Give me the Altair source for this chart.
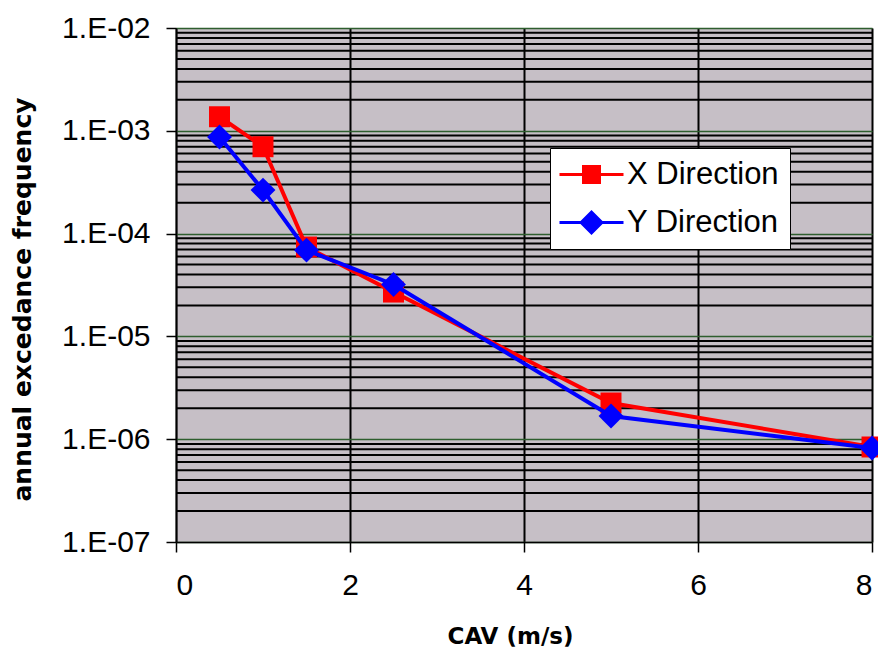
import altair as alt
import pandas as pd

# ---- data ----
cav = [0.5, 1, 1.5, 2.5, 5, 8]
x_direction = [1.37e-3, 7.0e-4, 7.4e-5, 2.7e-5, 2.25e-6, 8.4e-7]
y_direction = [8.7e-4, 2.65e-4, 6.9e-5, 3.2e-5, 1.68e-6, 8.2e-7]
series_names = ["X Direction", "Y Direction"]
x_ticks = [0, 2, 4, 6, 8]
decades = [1e-7, 1e-6, 1e-5, 1e-4, 1e-3, 1e-2]
minor_grid = [m * d for d in decades[:-1] for m in range(2, 10)]

colors = ["#FF0000", "#0000FF"]

df = pd.DataFrame({
    "cav": cav * 2,
    "freq": x_direction + y_direction,
    "series": [series_names[0]] * len(cav) + [series_names[1]] * len(cav),
})
grid_df = pd.DataFrame({"v": minor_grid})

FONT = "Liberation Sans"
TFONT = "DejaVu Sans"

yscale = alt.Scale(type="log", domain=[1e-7, 1e-2], nice=False)
xscale = alt.Scale(domain=[0, 8], nice=False, zero=False)

yaxis = alt.Axis(
    values=decades,
    labelExpr="'1.E-0' + format(-round(log(datum.value)/LN10), 'd')",
    grid=True, gridColor="#2E5E2E", gridWidth=1.5,
    tickColor="black", tickSize=10, tickWidth=1.5,
    domainColor="black", domainWidth=1.5,
    labelFont=FONT, labelFontSize=30, labelColor="black", labelPadding=16,
    titleFont=TFONT, titleFontSize=25, titleFontWeight="bold", titleColor="black",
    titleX=-154, titleY=271, titleAngle=270, titleAlign="center", titleBaseline="middle",
)
xaxis = alt.Axis(
    values=x_ticks, format="d",
    grid=True, gridColor="black", gridWidth=2,
    tickColor="black", tickSize=10, tickWidth=1.5,
    domainColor="black", domainWidth=1.5,
    labelFont=FONT, labelFontSize=30, labelColor="black", labelPadding=18,
    titleFont=TFONT, titleFontSize=23, titleFontWeight="bold", titleColor="black",
    titleX=334, titleY=94, titleAlign="center", titleBaseline="middle",
)

YT = "annual excedance frequency"
XT = "CAV (m/s)"
X = alt.X("cav:Q", scale=xscale, axis=xaxis, title=XT)
Y = alt.Y("freq:Q", scale=yscale, axis=yaxis, title=YT)

minor_rules = alt.Chart(grid_df).mark_rule(color="black", strokeWidth=2).encode(
    y=alt.Y("v:Q", scale=yscale, axis=yaxis, title=YT)
)

base = alt.Chart(df)
sel_x = alt.datum.series == series_names[0]
sel_y = alt.datum.series == series_names[1]

line_x = base.transform_filter(sel_x).mark_line(strokeWidth=4, color=colors[0]).encode(x=X, y=Y)
line_y = base.transform_filter(sel_y).mark_line(strokeWidth=4, color=colors[1]).encode(x=X, y=Y)
squares = base.transform_filter(sel_x).mark_point(
    filled=True, opacity=1, shape="square", size=440, color=colors[0]).encode(x=X, y=Y)
diamonds = base.transform_filter(sel_y).mark_point(
    filled=True, opacity=1, shape="diamond", size=620, color=colors[1]).encode(x=X, y=Y)

# legend symbols: filled marker with a thin filled bar through it (the line)
sq_path = "M-3.2,-0.15H3.2V0.15H-3.2Z M-0.95,-0.95H0.95V0.95H-0.95Z"
di_path = "M-3.2,-0.15H3.2V0.15H-3.2Z M-1.25,0L0,-1.25L1.25,0L0,1.25Z"

leg = dict(
    title=None, orient="none", legendX=374, legendY=120,
    fillColor="white", strokeColor="black", padding=11,
    labelFont=FONT, labelFontSize=31, labelColor="black",
    symbolSize=400, symbolStrokeWidth=0, symbolOpacity=1,
    rowPadding=16, labelOffset=20, symbolOffset=15,
)

# tiny marks hidden under the real markers; they only carry the legend
legend_layer = base.mark_point(filled=True, size=1).encode(
    x=X, y=Y,
    color=alt.Color("series:N", scale=alt.Scale(domain=series_names, range=colors),
                    legend=alt.Legend(**leg)),
    shape=alt.Shape("series:N", scale=alt.Scale(domain=series_names, range=[sq_path, di_path]),
                    legend=alt.Legend(**leg)),
)

chart = alt.layer(minor_rules, legend_layer, line_x, squares, line_y, diamonds).properties(
    width=696, height=514,
    padding={"left": 176, "top": 28, "right": 6, "bottom": 108},
    autosize=alt.AutoSizeParams(type="none"),
    background="white",
).configure_view(
    fill="#C6BFC6", stroke="#808080", strokeWidth=1
)

chart.save("out.html", embed_options={"renderer": "svg", "actions": False})
